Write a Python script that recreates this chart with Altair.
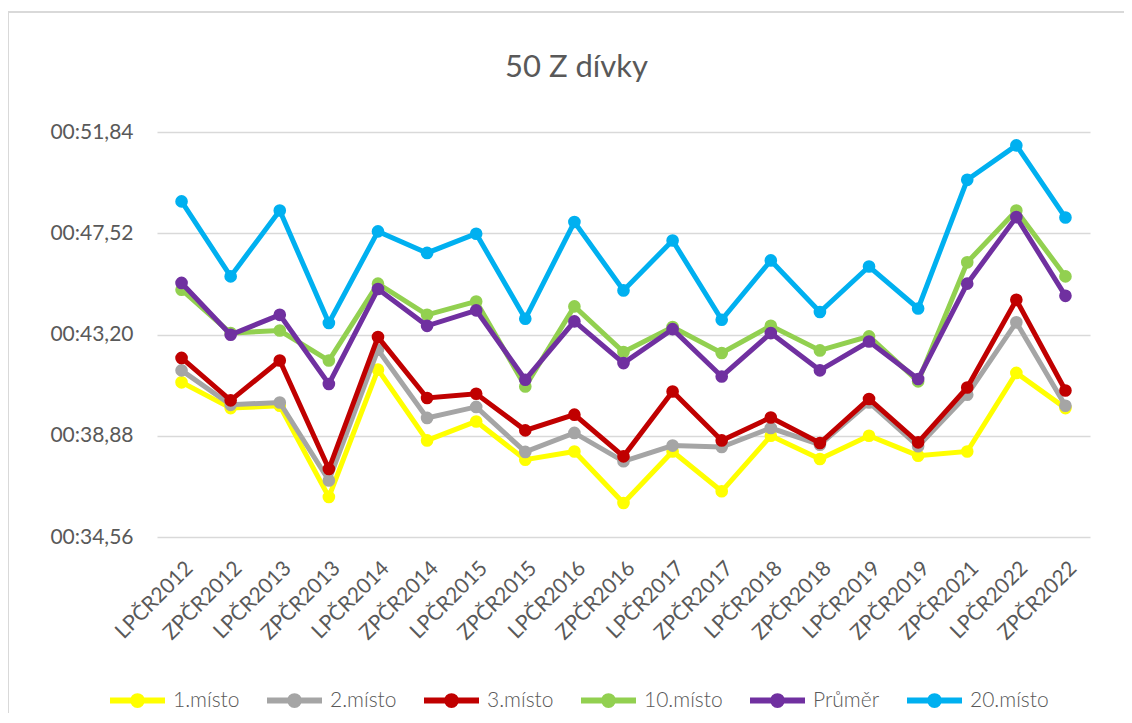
import altair as alt
import pandas as pd

categories = ["LPČR2012", "ZPČR2012", "LPČR2013", "ZPČR2013", "LPČR2014", "ZPČR2014",
              "LPČR2015", "ZPČR2015", "LPČR2016", "ZPČR2016", "LPČR2017", "ZPČR2017",
              "LPČR2018", "ZPČR2018", "LPČR2019", "ZPČR2019", "ZPČR2021", "LPČR2022", "ZPČR2022"]

misto1 = [41.16, 40.06, 40.16, 36.27, 41.70, 38.68, 39.49, 37.86, 38.21, 36.01,
          38.21, 36.51, 38.88, 37.89, 38.88, 38.03, 38.21, 41.56, 40.06]
misto2 = [41.67, 40.20, 40.30, 36.97, 42.55, 39.64, 40.11, 38.19, 39.00, 37.79,
          38.46, 38.40, 39.21, 38.50, 40.30, 38.43, 40.63, 43.72, 40.16]
misto3 = [42.20, 40.39, 42.09, 37.46, 43.09, 40.49, 40.67, 39.11, 39.78, 38.00,
          40.77, 38.68, 39.66, 38.57, 40.45, 38.60, 40.94, 44.68, 40.81]
misto10 = [45.11, 43.26, 43.37, 42.09, 45.37, 44.04, 44.61, 40.98, 44.40, 42.45,
           43.52, 42.41, 43.57, 42.52, 43.12, 41.20, 46.28, 48.49, 45.68]
prumer = [45.40, 43.19, 44.04, 41.09, 45.14, 43.57, 44.23, 41.27, 43.76, 41.98,
          43.43, 41.41, 43.26, 41.67, 42.90, 41.30, 45.37, 48.21, 44.85]
misto20 = [48.88, 45.68, 48.49, 43.69, 47.60, 46.68, 47.50, 43.87, 48.00, 45.08,
           47.21, 43.83, 46.36, 44.16, 46.10, 44.31, 49.80, 51.27, 48.19]

series_names = ["1.místo", "2.místo", "3.místo", "10.místo", "Průměr", "20.místo"]
series_values = [misto1, misto2, misto3, misto10, prumer, misto20]
series_colors = ["#FFFF00", "#A5A5A5", "#C00000", "#92D050", "#7030A0", "#00B0F0"]
y_ticks = [34.56, 38.88, 43.20, 47.52, 51.84]

rows = []
for name, vals in zip(series_names, series_values):
    for c, v in zip(categories, vals):
        rows.append({"kolo": c, "serie": name, "cas": v})
df = pd.DataFrame(rows)

FONT = "Lato"
TXT = "#595959"
FS = 21

legend_path = "M-1,0L1,0M-0.16,0A0.16,0.16,0,1,1,0.16,0A0.16,0.16,0,1,1,-0.16,0Z"

x_enc = alt.X("kolo:N", sort=categories, title=None,
              scale=alt.Scale(type="point", padding=0.5),
              axis=alt.Axis(labelAngle=-45, labelFontSize=FS, labelColor=TXT, labelFont=FONT,
                            ticks=False, domain=False, grid=False, labelPadding=20))
y_enc = alt.Y("cas:Q", title=None,
              scale=alt.Scale(domain=[34.56, 51.84], nice=False, zero=False),
              axis=alt.Axis(values=y_ticks, labelFontSize=FS, labelColor=TXT, labelFont=FONT,
                            labelExpr="'00:' + replace(format(datum.value, '.2f'), '.', ',')",
                            ticks=False, domain=False, gridColor="#D9D9D9", gridWidth=1.5,
                            labelPadding=24))
color_scale = alt.Scale(domain=series_names, range=series_colors)
main_legend = alt.Legend(title=None, orient="none", direction="horizontal",
                         legendX=-50, legendY=538,
                         symbolType=legend_path, symbolSize=3025,
                         symbolStrokeWidth=6, labelFontSize=FS,
                         labelFontWeight=300,
                         labelColor=TXT, labelFont=FONT, columnPadding=15,
                         labelOffset=5)

layers = []
for i, name in enumerate(series_names):
    color_enc = alt.Color("serie:N", sort=series_names, scale=color_scale,
                          legend=main_legend if i == 0 else None)
    layers.append(
        alt.Chart(df).transform_filter(alt.datum.serie == name)
        .mark_line(strokeWidth=5, point=alt.OverlayMarkDef(size=160, filled=True, opacity=1))
        .encode(x=x_enc, y=y_enc, color=color_enc)
    )

# light chart-area frame (top and left edges, as in the reference)
frame_top = alt.Chart(df).mark_rule(color="#D9D9D9", strokeWidth=1.5).encode(
    x=alt.value(-149), x2=alt.value(980), y=alt.value(-120))
frame_left = alt.Chart(df).mark_rule(color="#D9D9D9", strokeWidth=1.5).encode(
    x=alt.value(-149), y=alt.value(-120), y2=alt.value(600))

chart = alt.layer(frame_top, frame_left, *layers).properties(
    width=933, height=405,
    title=alt.Title("50 Z dívky", fontSize=31, font=FONT, color=TXT, fontWeight="normal",
                    anchor="middle", frame="group", dx=-47, baseline="alphabetic", offset=-97),
    autosize=alt.AutoSizeParams(type="none"),
    padding={"left": 149, "top": 124, "right": 34, "bottom": 176},
).configure_view(stroke=None)

chart.save("out.html", embed_options={"renderer": "svg", "actions": False})
